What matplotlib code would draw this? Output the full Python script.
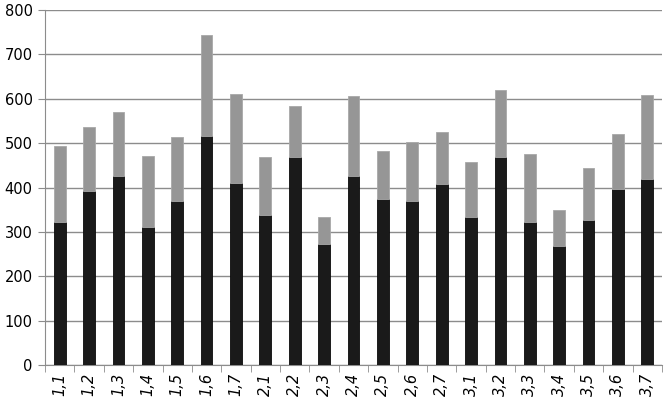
import numpy as np
import matplotlib.pyplot as plt

categories = ["1,1", "1,2", "1,3", "1,4", "1,5", "1,6", "1,7",
              "2,1", "2,2", "2,3", "2,4", "2,5", "2,6", "2,7",
              "3,1", "3,2", "3,3", "3,4", "3,5", "3,6", "3,7"]
# lower (black) part and total bar height
lower = [323, 391, 425, 310, 369, 516, 411,
         338, 469, 273, 425, 374, 370, 409,
         334, 468, 323, 269, 326, 397, 420]
total = [493, 537, 570, 470, 513, 744, 610,
         468, 584, 333, 607, 483, 502, 526,
         458, 619, 475, 349, 445, 521, 609]
upper = [t - l for t, l in zip(total, lower)]


def main():
    fig = plt.figure(figsize=(6.7, 4.08), dpi=100)
    ax = fig.add_axes([45 / 670, 43 / 408, 617 / 670, 355 / 408])

    x = np.arange(len(categories))
    ax.bar(x, lower, width=0.4, color="#1a1a1a", edgecolor="#0a0a0a", linewidth=0.6, zorder=3)
    ax.bar(x, upper, bottom=lower, width=0.4, color="#969696", edgecolor="#a8a8a8", linewidth=0.6, zorder=3)

    ax.set_xlim(-0.5, len(categories) - 0.5)
    ax.set_ylim(0, 800)
    ax.set_yticks(np.arange(0, 801, 100))
    ax.yaxis.grid(True, color="#8c8c8c", linewidth=1.0, zorder=0)

    for s in ["top", "right"]:
        ax.spines[s].set_visible(False)
    ax.spines["left"].set_color("#8c8c8c")
    ax.spines["bottom"].set_color("#8c8c8c")

    ax.tick_params(axis="y", length=5, color="#8c8c8c", labelsize=10.5, pad=4)
    ax.set_xticks(x)
    ax.set_xticklabels(categories, rotation=90, fontstyle="italic", fontsize=10.5)
    ax.tick_params(axis="x", length=0, pad=6)
    # tick marks between categories
    ax.set_xticks(np.arange(-0.5, len(categories), 1.0), minor=True)
    ax.tick_params(axis="x", which="minor", length=5, color="#8c8c8c")

    fig.savefig("out.png", dpi=100)


if __name__ == "__main__":
    main()
